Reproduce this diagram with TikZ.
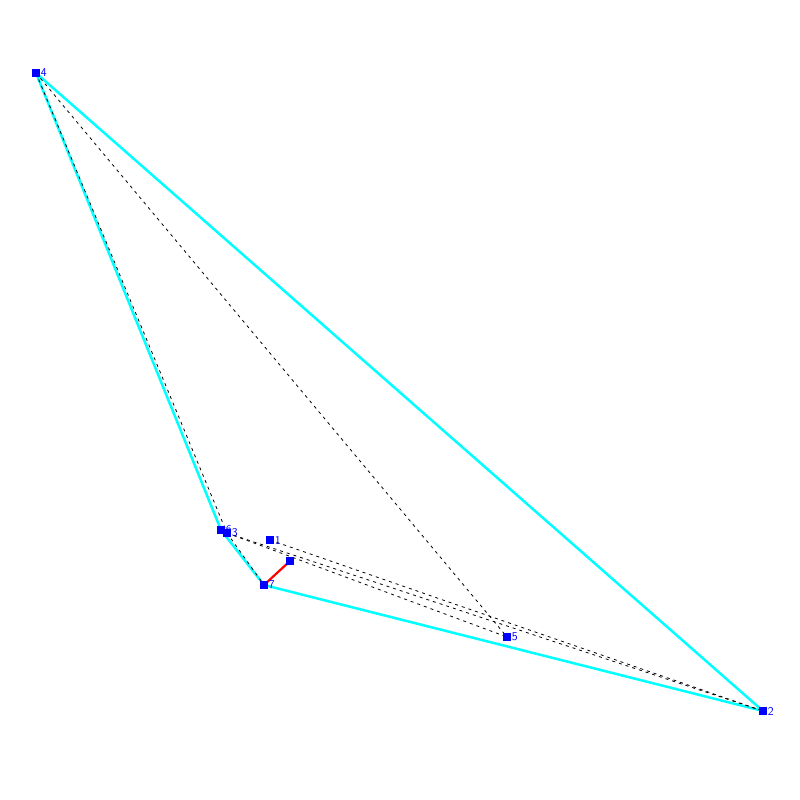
\documentclass[tikz,border=0pt]{standalone}
\usepackage{tikz}
\definecolor{hullcyan}{RGB}{0,255,255}
\definecolor{ptblue}{RGB}{0,0,255}
\definecolor{cutred}{RGB}{255,0,0}
\pgfdeclarelayer{bg}
\pgfsetlayers{bg,main}

\begin{document}
\begin{tikzpicture}[x=1pt,y=-1pt]
    \useasboundingbox (0,0) rectangle (800,800);

    \begin{scope}
    \tikzstyle{every node}=[fill=ptblue,shape=rectangle,inner sep=0pt,minimum size=7.5pt,
      label distance=0pt]
    \tikzstyle{every label}=[fill=none,text=ptblue,inner sep=0.8pt,font=\sffamily\fontsize{12}{12}\selectfont]
    \node (n4) at (36, 73) [label=right:4] {};
    \node (n6) at (221, 530) [label=right:6] {};
    \node (n3) at (227, 533) [label=right:3] {};
    \node (n1) at (270, 540) [label=right:1] {};
    \node (n0) at (290, 561) {};
    \node (n7) at (264, 585) [label=right:7] {};
    \node (n5) at (507, 637) [label=right:5] {};
    \node (n2) at (763, 711) [label=right:2] {};
    \end{scope}

  \begin{pgfonlayer}{bg}
  % hull
  \begin{scope}[style={hullcyan,line width=2.5pt}]
    \draw (n4.center) -- (n2.center);
    \draw (n2.center) -- (n7.center);
    \draw (n7.center) -- (n6.center);
    \draw (n6.center) -- (n4.center);
  \end{scope}

  \begin{scope}[style={black,line width=0.8pt,dash pattern=on 3pt off 4pt}]
    \draw (n4.center) -- (n3.center);
    \draw (n4.center) -- (n5.center);
    \draw (n3.center) -- (n7.center);
    \draw (n3.center) -- (n5.center);
    \draw (n3.center) -- (n2.center);
    \draw (n1.center) -- (n2.center);
  \end{scope}

  \draw[cutred,line width=2.2pt] (n7.center) -- (n0.center);
  \end{pgfonlayer}

  \end{tikzpicture}
\end{document}
